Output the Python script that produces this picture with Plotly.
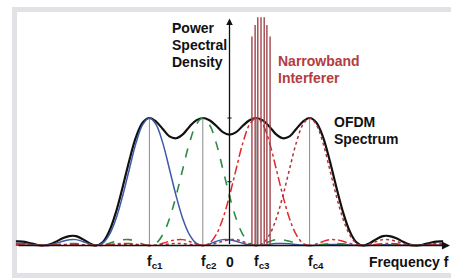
import numpy as np
import plotly.graph_objects as go

# ---------------- data ----------------
# subcarrier centre frequencies (in subcarrier-spacing units)
carrier_names = ["fc1", "fc2", "fc3", "fc4"]
carrier_freqs = [-1.5, -0.5, 0.5, 1.5]
tick_labels = ["f<sub>c1</sub>", "f<sub>c2</sub>", "0", "f<sub>c3</sub>", "f<sub>c4</sub>"]
tick_positions = [-1.5, -0.5, 0.0, 0.5, 1.5]

# one-sided subcarrier power spectrum, read at offsets 0, 0.125, 0.25 ... 5.5
pulse_step = 0.125
pulse_shape = [1.000, 0.948, 0.805, 0.600, 0.390, 0.210, 0.085, 0.018,
               0.000, 0.012, 0.032, 0.046, 0.045, 0.033, 0.017, 0.004,
               0.000, 0.003, 0.010, 0.015, 0.016, 0.013, 0.007, 0.002,
               0.000, 0.002, 0.005, 0.008, 0.008, 0.007, 0.004, 0.001,
               0.000, 0.001, 0.003, 0.005, 0.005, 0.004, 0.002, 0.001,
               0.000, 0.001, 0.002, 0.003, 0.003]

# narrowband interferer spectral lines
interferer_freqs = [0.42, 0.48, 0.53, 0.59, 0.65, 0.70, 0.76]
interferer_power = [1.64, 1.73, 1.79, 1.79, 1.79, 1.73, 1.64]

f_min, f_max = -4.0, 4.0

# ---------------- build curves ----------------
pulse = np.array(pulse_shape)
offs = pulse_step * np.arange(len(pulse))
full_off = np.concatenate([-offs[::-1], offs[1:]])
full_val = np.concatenate([pulse[::-1], pulse[1:]])

grid_n = int(round((f_max - f_min) / pulse_step)) + 1
grid_x = f_min + pulse_step * np.arange(grid_n)
ofdm = np.zeros(grid_n)

carrier_curves = []
for fc in carrier_freqs:
    x = fc + full_off
    m = (x >= f_min - 1e-9) & (x <= f_max + 1e-9)
    xs, ys = x[m], full_val[m]
    carrier_curves.append((xs, ys))
    idx = np.round((xs - f_min) / pulse_step).astype(int)
    ofdm[idx] += ys

styles = [
    dict(color="#3c5aa6", width=1.5, dash="solid"),
    dict(color="#2d8a43", width=1.6, dash="dash"),
    dict(color="#e0282a", width=1.5, dash="dashdot"),
    dict(color="#b0303a", width=1.5, dash="dot"),
]

fig = go.Figure()

# grey carrier markers
for fc in carrier_freqs:
    fig.add_trace(go.Scatter(x=[fc, fc], y=[0, 1.0], mode="lines",
                             line=dict(color="#8a8a8a", width=1), hoverinfo="skip"))

# OFDM envelope
fig.add_trace(go.Scatter(x=grid_x, y=ofdm, mode="lines", line_shape="spline",
                         line=dict(color="#111111", width=2.2), name="OFDM Spectrum"))

for (xs, ys), st, nm in zip(carrier_curves, styles, carrier_names):
    fig.add_trace(go.Scatter(x=xs, y=ys, mode="lines", line_shape="spline",
                             line=st, name=nm))

# interferer lines
ix, iy = [], []
for f, p in zip(interferer_freqs, interferer_power):
    ix += [f, f, None]
    iy += [0, p, None]
fig.add_trace(go.Scatter(x=ix, y=iy, mode="lines",
                         line=dict(color="#a0444a", width=1.4), name="Narrowband Interferer"))

# ---------------- layout ----------------
W, H = 451, 278
x0px, unit_x = 229.5, 53.4
y0px, unit_y = 245.5, 127.5
xr = [-x0px / unit_x, (W - x0px) / unit_x]
yr = [-(H - y0px) / unit_y, y0px / unit_y]


def px(x):
    return x / W


def py(y):
    return 1 - y / H


font = "Liberation Sans, Arial, sans-serif"
ann = []


def text(t, x, y, color="#111111", size=14, anchor="left"):
    ann.append(dict(text=t, xref="paper", yref="paper",
                    x=px(x), y=py(y), xanchor=anchor, yanchor="middle",
                    showarrow=False,
                    font=dict(family=font, size=size, color=color, weight="bold")))


text("Power", 170, 28)
text("Spectral", 170, 45.3)
text("Density", 170, 62.5)
text("Narrowband", 275.5, 61, color="#b43c3e")
text("Interferer", 275.5, 78, color="#b43c3e")
text("OFDM", 331.5, 122.5)
text("Spectrum", 331.5, 139)
text("Frequency f", 366.5, 261.5)

for lab, pos in zip(tick_labels, tick_positions):
    xp = x0px + pos * unit_x
    if lab == "0":
        text(lab, xp, 261.5, anchor="center")
    else:
        text(lab, xp - 4, 262, anchor="left")

# axis arrows
ann.append(dict(x=xr[1] - 0.02, y=0, ax=-3.98, ay=0, xref="x", yref="y", axref="x", ayref="y",
                text="", showarrow=True, arrowhead=2, arrowsize=1, arrowwidth=1.6,
                arrowcolor="#111111", font=dict(size=10)))
ann.append(dict(x=0, y=1.78, ax=0, ay=0, xref="x", yref="y", axref="x", ayref="y",
                text="", showarrow=True, arrowhead=2, arrowsize=1, arrowwidth=1.3,
                arrowcolor="#111111", font=dict(size=10)))

shapes = [
    # outer light frame
    dict(type="rect", xref="paper", yref="paper", x0=px(14.5), x1=px(470),
         y0=py(275.5), y1=py(9.5), line=dict(color="#e2e2e6", width=5), layer="below"),
    # small ticks on the PSD axis
    dict(type="line", xref="x", yref="y", x0=-0.04, x1=0.04, y0=1.0, y1=1.0,
         line=dict(color="#111111", width=1)),
    dict(type="line", xref="x", yref="y", x0=-0.04, x1=0.04, y0=0.5, y1=0.5,
         line=dict(color="#111111", width=1)),
]

fig.update_layout(
    width=W, height=H, margin=dict(l=0, r=0, t=0, b=0, pad=0),
    paper_bgcolor="white", plot_bgcolor="white", showlegend=False,
    xaxis=dict(range=xr, visible=False, fixedrange=True),
    yaxis=dict(range=yr, visible=False, fixedrange=True),
    annotations=ann, shapes=shapes,
)

fig.write_html("out.html", config={"displayModeBar": False},
               post_script="document.body.style.margin='0';"
                           "document.body.style.overflow='hidden';")
